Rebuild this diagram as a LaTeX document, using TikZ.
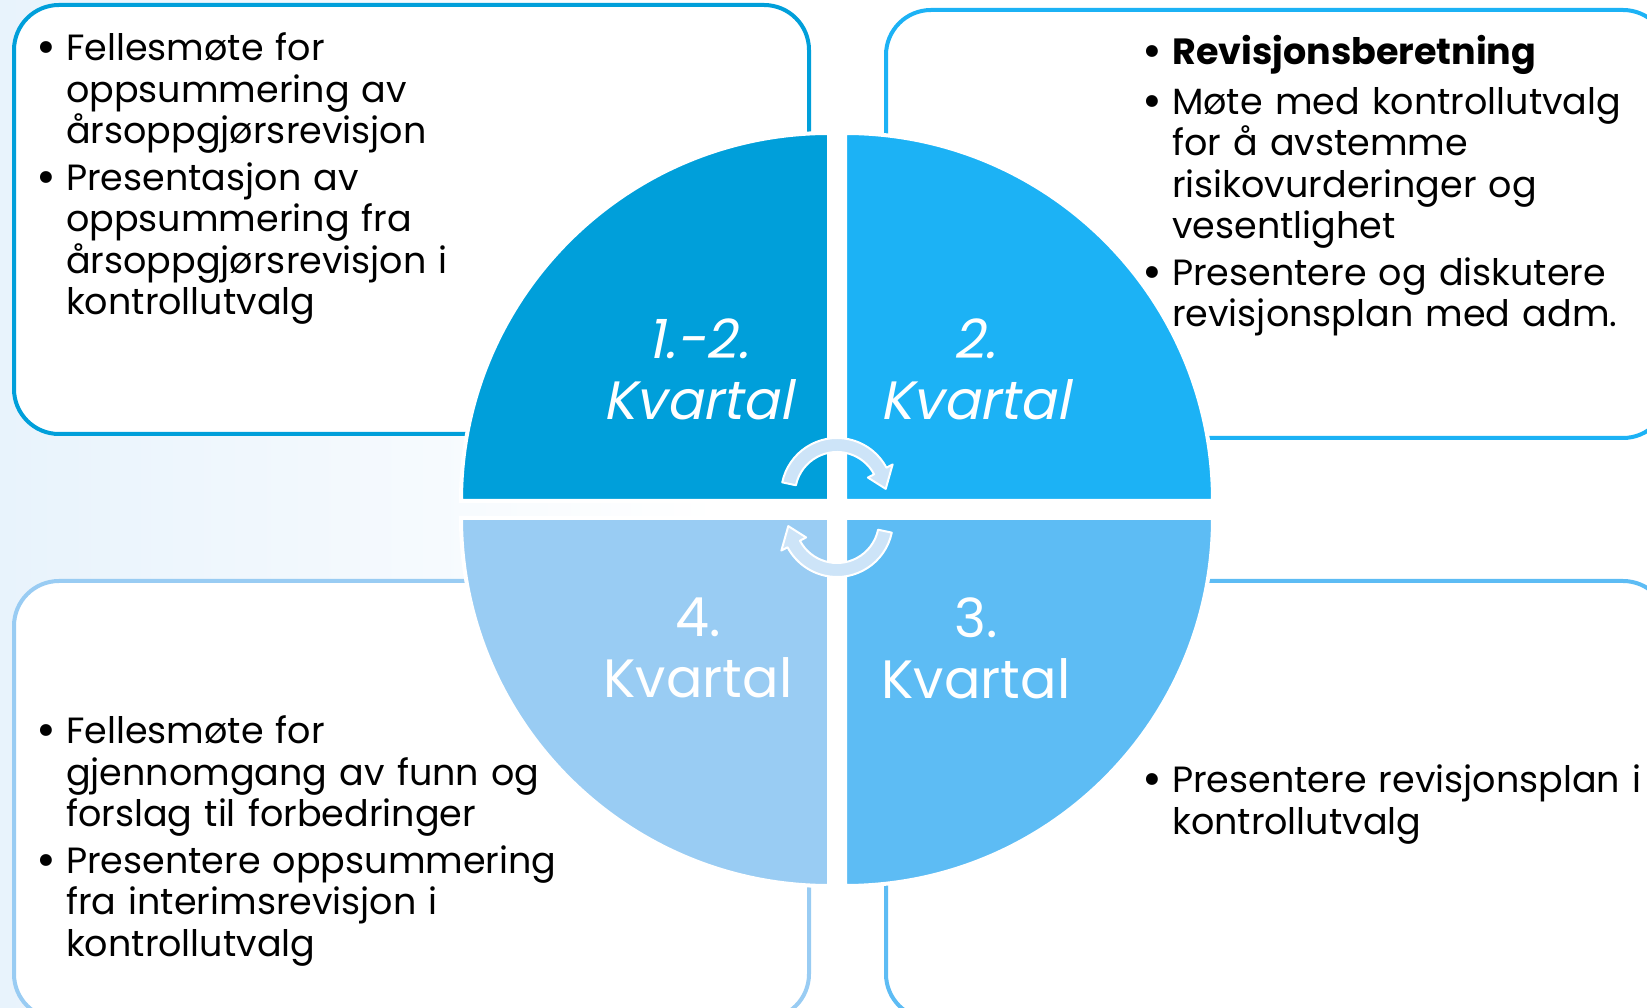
\documentclass[tikz,border=0pt]{standalone}
\usepackage{fontspec}
\setmainfont{Poppins}
\newfontface\kvitfont{Poppins}[FakeSlant=0.2]
\usepackage{tikz}

\definecolor{kvA}{RGB}{0,159,218}
\definecolor{kvB}{RGB}{28,178,245}
\definecolor{kvC}{RGB}{93,188,244}
\definecolor{kvD}{RGB}{153,204,243}
\definecolor{pilfarge}{RGB}{205,228,248}
\definecolor{bakgrunn}{RGB}{232,243,252}

% one bullet point with hanging lines, and the gap between two points
\newcommand{\pktbullet}{\raisebox{-3pt}{\fontsize{48}{41.5}\selectfont\textbullet}}
\newcommand{\pkt}[1]{\par\noindent\hbox to 30pt{\pktbullet\hfil}\parbox[t]{580pt}{\raggedright #1}\par}
\newcommand{\pktgap}{\vspace{8pt}}

\begin{document}
\begin{tikzpicture}[x=1pt,y=1pt,
        boks/.style={line width=4pt, fill=white, rounded corners=45pt},
        kvadrant/.style={draw=white, line width=4pt},
        kvtekst/.style={text=white, align=center, inner sep=0pt, font=\fontsize{54}{61}\selectfont},
        kvkursiv/.style={kvtekst, font=\kvitfont\fontsize{54}{61}\selectfont},
        punkt/.style={anchor=north west, inner sep=0pt, text width=620pt, align=left, font=\fontsize{36.5}{41.5}\selectfont},
        pil/.style={fill=pilfarge, draw=white, line width=2pt, line join=round}]
        \useasboundingbox (0,0) rectangle (1647,1007);
        \clip (0,0) rectangle (1647,1007);

	%---BACKGROUND---
        \shade[left color=bakgrunn, right color=white] (0,0) rectangle (720,1007);

	%---BOXES---
        \draw[boks, draw=kvA] (14,573) rectangle (809,1002);
        \draw[boks, draw=kvB] (886,569) rectangle (1668,997);
        \draw[boks, draw=kvD] (14,-12) rectangle (809,426);
        \draw[boks, draw=kvC] (886,-12) rectangle (1668,426);

	%---QUADRANTS---
        \path[kvadrant, fill=kvA] (829,506) -- ++(0,368) arc[start angle=90, end angle=180, radius=368pt] -- cycle;
        \path[kvadrant, fill=kvB] (845,506) -- ++(368,0) arc[start angle=0, end angle=90, radius=368pt] -- cycle;
        \path[kvadrant, fill=kvC] (845,489) -- ++(0,-368) arc[start angle=270, end angle=360, radius=368pt] -- cycle;
        \path[kvadrant, fill=kvD] (829,489) -- ++(-368,0) arc[start angle=180, end angle=270, radius=368pt] -- cycle;

	%---ARROWS---
        \foreach \cy/\rot in {513/0, 486/180} {
          \draw[pil, shift={(837,\cy)}, rotate=\rot] (168:56pt) arc[start angle=168, end angle=28, radius=56pt]
            -- (28:63pt) -- (6:49pt) -- (28:35pt) -- (28:42pt) arc[start angle=28, end angle=168, radius=42pt] -- cycle;
        }

	%---LABELS---
        \node[kvkursiv] (k1) at (698,637.5) {1.-2.\\Kvartal};
        \node[kvkursiv] (k2) at (975,637.5) {2.\\Kvartal};
        \node[kvtekst] (k3) at (976,359) {3.\\Kvartal};
        \node[kvtekst] (k4) at (698,359) {4.\\Kvartal};

        \node[punkt] (t1) at (36,988) {\pkt{Fellesmøte for\\oppsummering av\\årsoppgjørsrevisjon}\pktgap\pkt{Presentasjon av\\oppsummering fra\\årsoppgjørsrevisjon i\\kontrollutvalg}};
        \node[punkt] (t2) at (1142,984) {\pkt{\textbf{Revisjonsberetning}}\pktgap\pkt{Møte med kontrollutvalg\\for å avstemme\\risikovurderinger og\\vesentlighet}\pktgap\pkt{Presentere og diskutere\\revisjonsplan med adm.}};
        \node[punkt] (t3) at (1142,256) {\pkt{Presentere revisjonsplan i\\kontrollutvalg}};
        \node[punkt] (t4) at (36,305) {\pkt{Fellesmøte for\\gjennomgang av funn og\\forslag til forbedringer}\pktgap\pkt{Presentere oppsummering\\fra interimsrevisjon i\\kontrollutvalg}};

    \end{tikzpicture}
\end{document}
